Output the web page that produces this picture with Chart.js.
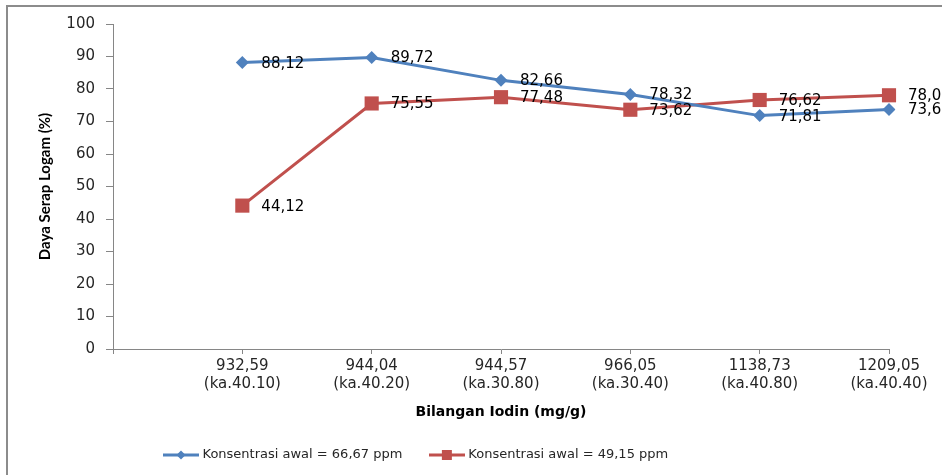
<!DOCTYPE html>
<html>
<head>
<meta charset="utf-8">
<script src="https://cdn.jsdelivr.net/npm/chart.js@4.4.0/dist/chart.umd.min.js"></script>
<style>
  html, body { margin: 0; padding: 0; background: #fff; }
  #wadah { width: 942px; height: 475px; position: relative; }
</style>
</head>
<body>
<div id="wadah"><canvas id="grafik"></canvas></div>
<script>
// ── Data ──
// kategori pertama kosong: di Excel sumbu dimulai satu posisi sebelum titik pertama
const bilanganIodin = [
    '',
    ['932,59', '(ka.40.10)'],
    ['944,04', '(ka.40.20)'],
    ['944,57', '(ka.30.80)'],
    ['966,05', '(ka.30.40)'],
    ['1138,73', '(ka.40.80)'],
    ['1209,05', '(ka.40.40)']
];
const seri6667 = [null, 88.12, 89.72, 82.66, 78.32, 71.81, 73.66];
const seri4915 = [null, 44.12, 75.55, 77.48, 73.62, 76.62, 78.07];
const namaSeri = ['Konsentrasi awal = 66,67 ppm', 'Konsentrasi awal = 49,15 ppm'];
const yMin = 0, yMax = 100, yLangkah = 10;

// ── Palet Excel 2007 ──
const BIRU = '#4F81BD';
const MERAH = '#C0504D';
const ABU = '#868686';
const TEKS = '#262626';
const FONT = '"DejaVu Sans", sans-serif';

// ikon legenda: garis dengan penanda di tengah
function ikonLegenda(warna, bentuk) {
    const c = document.createElement('canvas');
    c.width = 36; c.height = 14;
    const g = c.getContext('2d');
    g.strokeStyle = warna; g.lineWidth = 3;
    g.beginPath(); g.moveTo(0, 7); g.lineTo(36, 7); g.stroke();
    g.fillStyle = warna;
    g.beginPath();
    if (bentuk === 'belah') {
        g.moveTo(18, 2.5); g.lineTo(22.5, 7); g.lineTo(18, 11.5); g.lineTo(13.5, 7);
    } else {
        g.rect(13, 2, 10, 10);
    }
    g.fill();
    return c;
}
const ikon = [ikonLegenda(BIRU, 'belah'), ikonLegenda(MERAH, 'kotak')];

// label nilai di kanan tiap titik, koma desimal
const labelNilai = {
    id: 'labelNilai',
    afterDatasetsDraw(chart) {
        const ctx = chart.ctx;
        ctx.save();
        ctx.font = '15px ' + FONT;
        ctx.fillStyle = '#000';
        ctx.textAlign = 'left';
        ctx.textBaseline = 'middle';
        chart.data.datasets.forEach((ds, i) => {
            chart.getDatasetMeta(i).data.forEach((pt, j) => {
                const v = ds.data[j];
                if (v == null) return;
                ctx.fillText(v.toFixed(2).replace('.', ','), pt.x + 19, pt.y + 1);
            });
        });
        ctx.restore();
    }
};

// bingkai luar area grafik
const bingkai = {
    id: 'bingkai',
    beforeDraw(chart) {
        const ctx = chart.ctx;
        ctx.save();
        ctx.strokeStyle = '#8c8c8c';
        ctx.lineWidth = 2;
        ctx.strokeRect(7, 6, 1000, 1000);
        ctx.restore();
    }
};

// legenda digeser ke posisi seperti aslinya
const geserLegenda = {
    id: 'geserLegenda',
    afterLayout(chart) {
        const lg = chart.legend;
        const h = lg.height;
        lg.left = 156;
        lg.top = 438.5;
        lg.bottom = lg.top + h;
    }
};

new Chart(document.getElementById('grafik'), {
    type: 'line',
    data: {
        labels: bilanganIodin,
        datasets: [{
            label: namaSeri[0],
            data: seri6667,
            borderColor: BIRU,
            backgroundColor: BIRU,
            borderWidth: 3,
            pointStyle: 'rectRot',
            pointRadius: 6.5,
            pointBorderWidth: 0,
            tension: 0
        }, {
            label: namaSeri[1],
            data: seri4915,
            borderColor: MERAH,
            backgroundColor: MERAH,
            borderWidth: 3,
            pointStyle: 'rect',
            pointRadius: 10,
            pointBorderWidth: 0,
            tension: 0
        }]
    },
    options: {
        responsive: true,
        maintainAspectRatio: false,
        animation: false,
        layout: { padding: { top: 24, right: 53, bottom: 21, left: 0 } },
        plugins: {
            tooltip: { enabled: false },
            legend: {
                position: 'bottom',
                align: 'start',
                labels: {
                    usePointStyle: true,
                    pointStyleWidth: 30,
                    padding: 10,
                    color: TEKS,
                    font: { family: FONT, size: 13 },
                    generateLabels(chart) {
                        const items = Chart.defaults.plugins.legend.labels.generateLabels(chart);
                        items.forEach((it, i) => {
                            it.pointStyle = ikon[i];
                            it.text = it.text + '\u2002\u2002\u2002';
                        });
                        return items;
                    }
                }
            }
        },
        scales: {
            x: {
                type: 'category',
                offset: false,
                afterFit(s) { s.height = 72; },
                grid: { drawOnChartArea: false, drawTicks: true, tickLength: 5, color: ABU },
                border: { color: ABU },
                ticks: { color: TEKS, font: { family: FONT, size: 15 }, padding: 3, maxRotation: 0, autoSkip: false },
                title: {
                    display: true,
                    text: 'Bilangan Iodin (mg/g)',
                    color: '#000',
                    font: { family: FONT, size: 14, weight: 'bold' },
                    padding: { top: 0, bottom: 0 }
                }
            },
            y: {
                min: yMin,
                max: yMax,
                afterFit(s) { s.width = 113; },
                grid: { drawOnChartArea: false, drawTicks: true, tickLength: 7, color: ABU },
                border: { color: ABU },
                ticks: { stepSize: yLangkah, color: TEKS, font: { family: FONT, size: 15 }, padding: 11 },
                title: {
                    display: true,
                    text: 'Daya Serap Logam (%)',
                    color: '#000',
                    font: { family: 'Lato, sans-serif', size: 15, weight: 'bold' },
                    padding: { top: 36, bottom: 0 }
                }
            }
        }
    },
    plugins: [labelNilai, bingkai, geserLegenda]
});
</script>
</body>
</html>
